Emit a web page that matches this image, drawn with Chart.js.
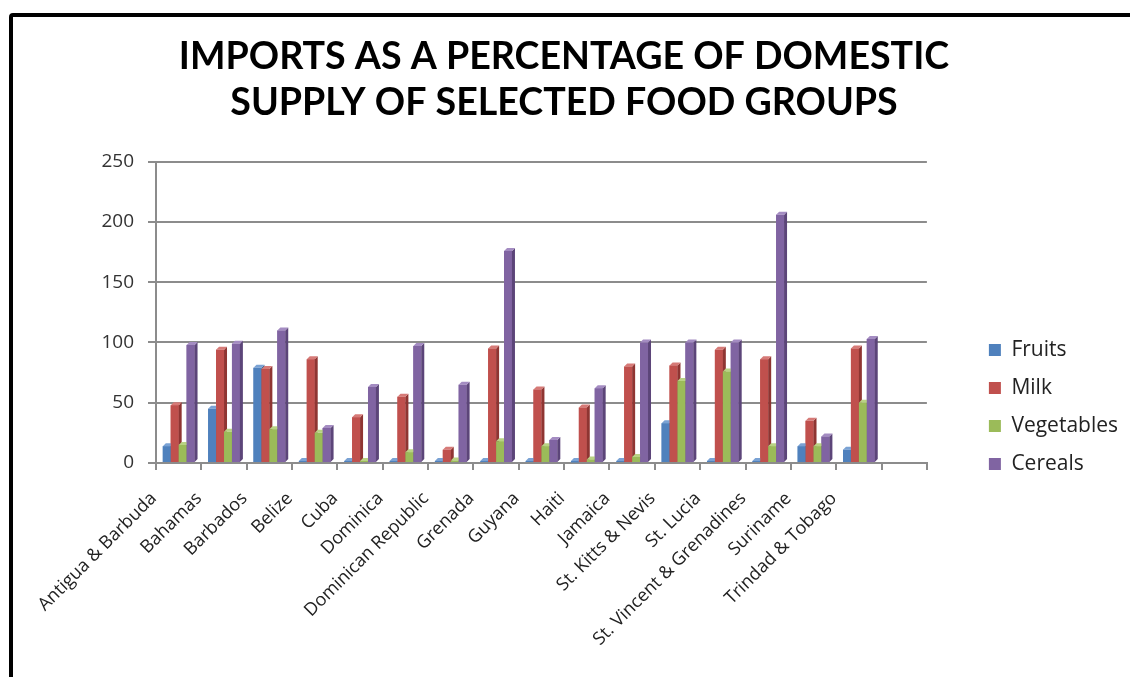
<!DOCTYPE html>
<html><head><meta charset="utf-8">
<script src="https://cdn.jsdelivr.net/npm/chart.js@4.4.1/dist/chart.umd.min.js"></script>
<style>
html,body{margin:0;padding:0;background:#fff;overflow:hidden}
#wrap{position:relative;width:1130px;height:677px}
#frame{position:absolute;left:9px;top:13px;width:1200px;height:800px;border:4px solid #000;border-radius:4px;box-sizing:border-box;pointer-events:none}
</style></head><body>
<div id="wrap"><canvas id="c" width="1130" height="677"></canvas><div id="frame"></div></div>
<script>
const categories = ['Antigua & Barbuda','Bahamas','Barbados','Belize','Cuba','Dominica','Dominican Republic','Grenada','Guyana','Haiti','Jamaica','St. Kitts & Nevis','St. Lucia','St. Vincent & Grenadines','Suriname','Trindad & Tobago',''];
const fruits     = [14, 45, 79, 1, 1, 1, 1, 1, 1, 0.5, 1, 33, 1, 1, 14, 11, null];
const milk       = [48, 94, 78, 86, 38, 55, 11, 95, 61, 46, 80, 81, 94, 86, 35, 95, null];
const vegetables = [15, 26, 28, 25, 1, 9, 2, 18, 14, 3, 5, 68, 76, 14, 14, 50, null];
const cereals    = [98, 99, 110, 29, 63, 97, 65, 176, 19, 62, 100, 100, 100, 206, 22, 103, null];
const seriesNames = ['Fruits','Milk','Vegetables','Cereals'];
const yTicks = [0, 50, 100, 150, 200, 250];

const front = ['#4F81BD','#C0504D','#9BBB59','#8064A2'];
const side  = ['#35608f','#8f3532','#708a3b','#5c4579'];
const topc  = ['#7aa2d4','#d67a77','#b9d284','#a48cc2'];

const bars3d = {
  id: 'bars3d',
  afterDatasetsDraw(chart) {
    const ctx = chart.ctx, d = 3;
    const n = chart.data.labels.length;
    ctx.save();
    for (let i = 0; i < n; i++) {
      for (let s = 0; s < chart.data.datasets.length; s++) {
        const v = chart.data.datasets[s].data[i];
        if (v == null) continue;
        const el = chart.getDatasetMeta(s).data[i];
        if (!el) continue;
        const p = el.getProps(['x','y','base','width'], true);
        const l = p.x - p.width / 2, r = p.x + p.width / 2, y = Math.min(p.y, p.base - 1), b = p.base;
        ctx.fillStyle = front[s];
        ctx.fillRect(l, y, p.width, b - y);
        ctx.fillStyle = side[s];
        ctx.beginPath(); ctx.moveTo(r, y); ctx.lineTo(r + d, y - d); ctx.lineTo(r + d, b - d); ctx.lineTo(r, b); ctx.closePath(); ctx.fill();
        ctx.fillStyle = topc[s];
        ctx.beginPath(); ctx.moveTo(l, y); ctx.lineTo(l + d, y - d); ctx.lineTo(r + d, y - d); ctx.lineTo(r, y); ctx.closePath(); ctx.fill();
      }
    }
    ctx.restore();
  }
};

const bgPlugin = {
  id: 'bg',
  beforeDraw(chart) { const c = chart.ctx; c.save(); c.fillStyle = '#fff'; c.fillRect(0, 0, chart.width, chart.height); c.restore(); }
};

const seriesData = [fruits, milk, vegetables, cereals];
new Chart(document.getElementById('c'), {
  type: 'bar',
  data: {
    labels: categories,
    datasets: seriesNames.map((name, i) => ({
      label: name, data: seriesData[i], backgroundColor: front[i], borderWidth: 0,
      categoryPercentage: 0.7, barPercentage: 1.0, yAxisID: 'y'
    }))
  },
  options: {
    responsive: false, animation: false, devicePixelRatio: 1,
    layout: { padding: { top: 0, left: 0, right: 2, bottom: 0 } },
    plugins: {
      tooltip: { enabled: false },
      title: {
        display: true,
        text: ['IMPORTS AS A PERCENTAGE OF DOMESTIC', 'SUPPLY OF SELECTED FOOD GROUPS'],
        color: '#000',
        font: { family: "Lato", size: 37.6, weight: 'bold', lineHeight: 1.22 },
        padding: { top: 34, bottom: 36 }
      },
      legend: {
        position: 'right', align: 'center',
        title: { display: true, text: ' ', font: { size: 1, lineHeight: 1 }, padding: { top: 136, bottom: 0 } },
        labels: { boxWidth: 12, boxHeight: 12, padding: 17, color: '#222', font: { family: "'Open Sans'", size: 21 } }
      }
    },
    scales: {
      x: {
        offset: true,
        grid: { display: true, drawOnChartArea: false, drawTicks: true, tickLength: 7, offset: true, color: '#8c8c8c', lineWidth: 2 },
        border: { display: true, color: '#8c8c8c', width: 2 },
        ticks: { autoSkip: false, maxRotation: 45, minRotation: 45, color: '#222', font: { family: "'Open Sans'", size: 18 }, padding: 18, labelOffset: -25 },
        afterFit(scale) { scale.height = 214; }
      },
      y: {
        min: 0, max: 250,
        afterBuildTicks(scale) { scale.ticks = yTicks.map(v => ({ value: v })); },
        grid: { color: '#8c8c8c', lineWidth: 2, drawTicks: true, tickLength: 8 },
        border: { display: true, color: '#8c8c8c', width: 2 },
        ticks: { color: '#333', font: { family: "'Open Sans'", size: 19 }, padding: 14 },
        afterFit(scale) { scale.width = 156; }
      },
      spacer: {
        type: 'linear', position: 'right', display: true,
        grid: { display: false }, border: { display: false }, ticks: { display: false },
        afterFit(scale) { scale.width = 45; }
      }
    }
  },
  plugins: [bgPlugin, bars3d]
});
</script>
</body></html>
